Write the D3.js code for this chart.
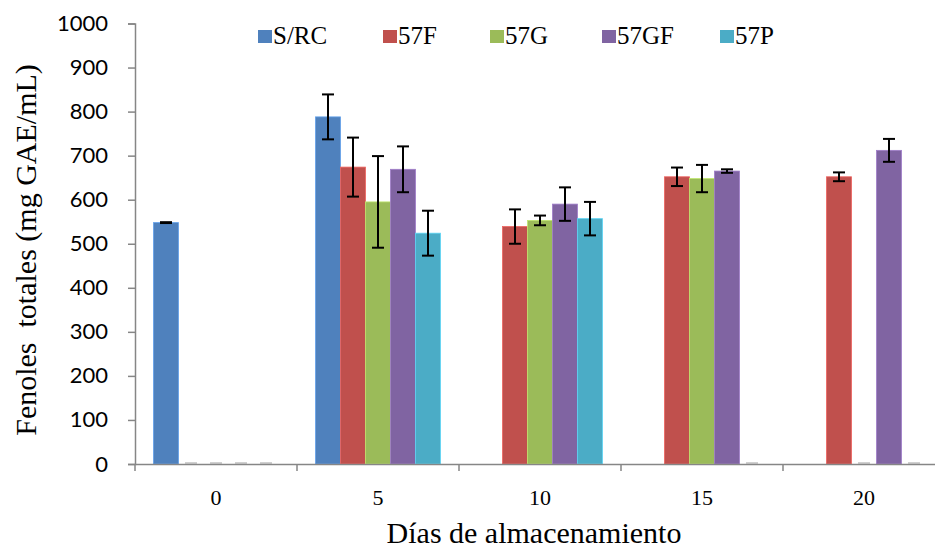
<!DOCTYPE html>
<html>
<head>
<meta charset="utf-8">
<script src="https://cdn.jsdelivr.net/npm/d3@7"></script>
<style>
  html, body { margin: 0; padding: 0; background: #fff; }
  svg { display: block; }
</style>
</head>
<body>
<svg id="chart" width="935" height="550"></svg>
<script>
// Storage days (x categories)
const days = ["0", "5", "10", "15", "20"];
// Series names
const series = ["S/RC", "57F", "57G", "57GF", "57P"];
const colors = ["#4F81BD", "#C0504D", "#9BBB59", "#8064A2", "#4BACC6"];

// Total phenols (mg GAE/mL) per series, one value per day (null = not measured)
const valSRC  = [548, 788, null, null, null];
const val57F  = [0, 674, 539, 652, 652];
const val57G  = [0, 595, 553, 648, 0];
const val57GF = [0, 669, 590, 665, 712];
const val57P  = [0, 524, 557, 0, 0];

// Standard deviations
const errSRC  = [1, 51, null, null, null];
const err57F  = [0, 67, 39, 21, 10];
const err57G  = [0, 104, 11, 31, 0];
const err57GF = [0, 52, 38, 4, 26];
const err57P  = [0, 51, 38, 0, 0];

const yTicks = [0, 100, 200, 300, 400, 500, 600, 700, 800, 900, 1000];

const values = [valSRC, val57F, val57G, val57GF, val57P];
const errors = [errSRC, err57F, err57G, err57GF, err57P];

const svg = d3.select("#chart");
const plotLeft = 135, plotRight = 945, plotTop = 23.5, plotBottom = 464;
const serif = "'Liberation Serif', 'DejaVu Serif', serif";

const x = d3.scaleBand().domain(days).range([plotLeft, plotRight]).padding(0);
const xs = d3.scaleBand().domain(series).range([0, x.bandwidth()])
  .paddingInner(0).paddingOuter(0.74);
const y = d3.scaleLinear().domain([0, 1000]).range([plotBottom, plotTop]);

// Flatten into records
const recs = [];
series.forEach((s, si) => {
  days.forEach((d, di) => {
    const v = values[si][di];
    if (v === null) return;
    recs.push({ s, si, d, v, e: errors[si][di] });
  });
});

// Y axis
const yAxis = svg.append("g")
  .attr("transform", `translate(${plotLeft},0)`)
  .call(d3.axisLeft(y).tickValues(yTicks).tickSize(7).tickPadding(20).tickFormat(d3.format("d")));
yAxis.select(".domain").attr("stroke", "#868686").attr("stroke-width", 1.5);
yAxis.selectAll(".tick line").attr("stroke", "#868686").attr("stroke-width", 1.5);
yAxis.selectAll(".tick text")
  .attr("fill", "#000")
  .style("font-family", "Lato, 'Open Sans', sans-serif")
  .style("font-size", "22px");

// Bars
svg.append("g").selectAll("rect")
  .data(recs.filter(r => r.v > 0))
  .join("rect")
  .attr("x", r => x(r.d) + xs(r.s))
  .attr("width", xs.bandwidth())
  .attr("y", r => y(r.v))
  .attr("height", r => y(0) - y(r.v))
  .attr("fill", r => colors[r.si])
  .attr("stroke", r => d3.color(colors[r.si]).brighter(0.6))
  .attr("stroke-width", 0.8);

// Zero-valued entries shown as faint marks on the baseline
svg.append("g").selectAll("line")
  .data(recs.filter(r => r.v === 0))
  .join("line")
  .attr("x1", r => x(r.d) + xs(r.s) + xs.bandwidth() / 2 - 6)
  .attr("x2", r => x(r.d) + xs(r.s) + xs.bandwidth() / 2 + 6)
  .attr("y1", y(0) - 1)
  .attr("y2", y(0) - 1)
  .attr("stroke", "#c0c0c0")
  .attr("stroke-width", 1.5);

// X axis
const xAxis = svg.append("g")
  .attr("transform", `translate(0,${plotBottom})`)
  .call(d3.axisBottom(x).tickSize(0).tickPadding(25));
xAxis.select(".domain").attr("stroke", "#868686").attr("stroke-width", 1.5);
xAxis.selectAll(".tick text")
  .attr("fill", "#000")
  .style("font-family", serif)
  .style("font-size", "22px");
// Tick marks on category boundaries
svg.append("g").selectAll("line")
  .data(days.concat(["end"]))
  .join("line")
  .attr("x1", (d, i) => plotLeft + i * x.step())
  .attr("x2", (d, i) => plotLeft + i * x.step())
  .attr("y1", plotBottom)
  .attr("y2", plotBottom + 7)
  .attr("stroke", "#868686")
  .attr("stroke-width", 1.5);

// Error bars
const eb = svg.append("g").attr("stroke", "#000").attr("stroke-width", 2);
recs.filter(r => r.v > 0 && r.e > 0).forEach(r => {
  const cx = x(r.d) + xs(r.s) + xs.bandwidth() / 2;
  const y1 = y(r.v + r.e), y2 = y(r.v - r.e);
  eb.append("line").attr("x1", cx).attr("x2", cx).attr("y1", y1).attr("y2", y2);
  eb.append("line").attr("x1", cx - 6).attr("x2", cx + 6).attr("y1", y1).attr("y2", y1);
  eb.append("line").attr("x1", cx - 6).attr("x2", cx + 6).attr("y1", y2).attr("y2", y2);
});

// Legend
const legendX = [258, 383, 490, 602, 720];
const lg = svg.append("g");
series.forEach((s, i) => {
  lg.append("rect")
    .attr("x", legendX[i]).attr("y", 30)
    .attr("width", 14).attr("height", 13)
    .attr("fill", colors[i]);
  lg.append("text")
    .attr("x", legendX[i] + 15).attr("y", 44)
    .style("font-family", serif)
    .style("font-size", "25px")
    .text(s);
});

// Axis titles
svg.append("text")
  .attr("transform", `translate(36,250) rotate(-90)`)
  .attr("text-anchor", "middle")
  .style("font-family", serif)
  .style("font-size", "30px")
  .style("white-space", "pre")
  .text("Fenoles  totales (mg GAE/mL)");

svg.append("text")
  .attr("x", 534)
  .attr("y", 543)
  .attr("text-anchor", "middle")
  .style("font-family", serif)
  .style("font-size", "30px")
  .text("Días de almacenamiento");
</script>
</body>
</html>
